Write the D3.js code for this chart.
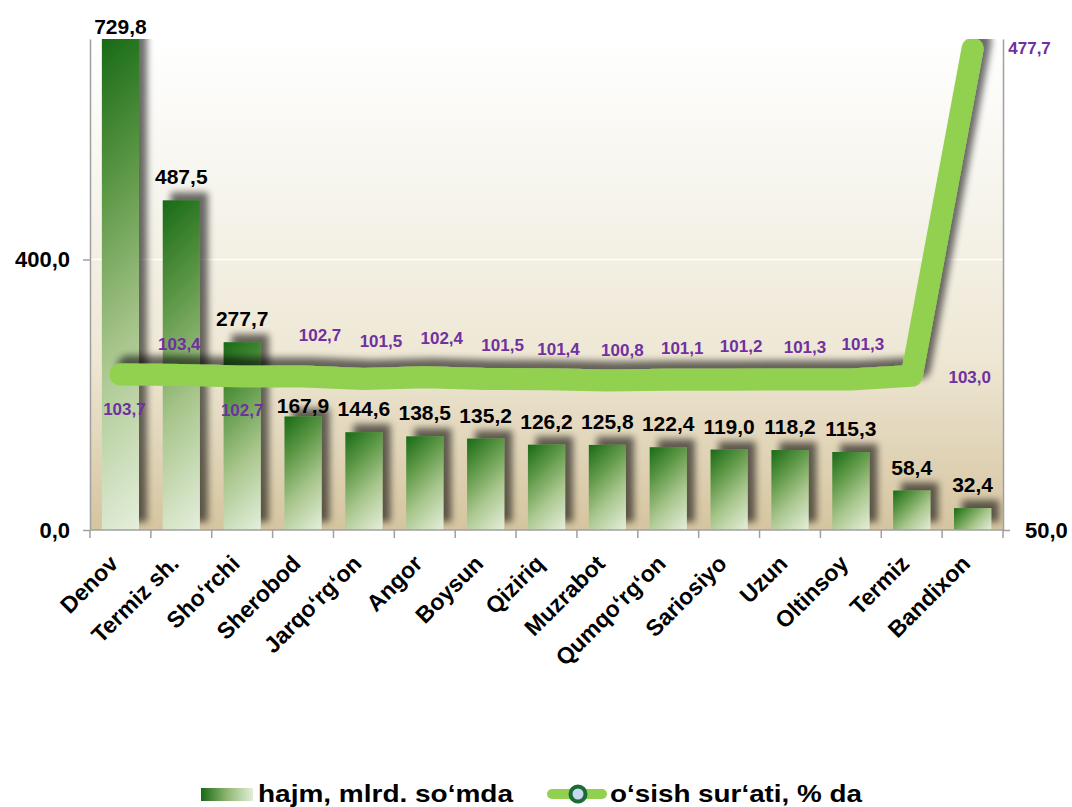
<!DOCTYPE html>
<html>
<head>
<meta charset="utf-8">
<script src="https://d3js.org/d3.v7.min.js"></script>
<style>
  body { margin: 0; background: #fff; }
  svg { display: block; font-family: "Liberation Sans", Arial, sans-serif; }
</style>
</head>
<body>
<svg id="chart" width="1072" height="807"></svg>
<script>
// data
const districts = ["Denov", "Termiz sh.", "Sho‘rchi", "Sherobod", "Jarqo‘rg‘on", "Angor", "Boysun",
  "Qiziriq", "Muzrabot", "Qumqo‘rg‘on", "Sariosiyo", "Uzun", "Oltinsoy", "Termiz", "Bandixon"];
const volume = [729.8, 487.5, 277.7, 167.9, 144.6, 138.5, 135.2, 126.2, 125.8, 122.4, 119.0, 118.2, 115.3, 58.4, 32.4];
const growth = [103.7, 103.4, 102.7, 102.7, 101.5, 102.4, 101.5, 101.4, 100.8, 101.1, 101.2, 101.3, 101.3, 103.0, 477.7];
const leftTicks = [0, 400];
const rightTicks = [50];
const legendNames = ["hajm, mlrd. so‘mda", "o‘sish sur‘ati, % da"];

// label nudges (px) for the % labels, as placed in the original
const growthLabelShift = [[4, 41], [-2, -25], [0, 39], [17, -36], [17, -32], [17, -33], [17, -28],
  [12, -24], [15, -24], [14, -26], [12, -28], [15, -26], [12, -29], [58, 7], [57, 5]];
const volumeLabelGap = [16, 16, 16, 3, 16, 16, 16, 16, 16, 16, 16, 16, 16, 16, 16];

const fmt = v => d3.format(".1f")(v).replace(".", ",");

const svg = d3.select("#chart");
const plot = {left: 90, right: 1003, top: 39, bottom: 530};

const x = d3.scaleBand()
  .domain(districts)
  .range([plot.left, plot.right])
  .paddingInner(0.39)
  .paddingOuter(0.195);
const step = x.step();
const bw = x.bandwidth();

const yL = d3.scaleLinear().domain([0, 726]).range([plot.bottom, plot.top]);
const yR = d3.scaleLog().domain([50, 500]).range([plot.bottom, plot.top]);

const defs = svg.append("defs");

const bg = defs.append("linearGradient").attr("id", "bg")
  .attr("x1", 0).attr("y1", 0).attr("x2", 0).attr("y2", 1);
bg.append("stop").attr("offset", "0%").attr("stop-color", "#ffffff");
bg.append("stop").attr("offset", "35%").attr("stop-color", "#f5f3ea");
bg.append("stop").attr("offset", "65%").attr("stop-color", "#eee7d4");
bg.append("stop").attr("offset", "100%").attr("stop-color", "#d5c49f");

const barStops = [["0%", "#186a16"], ["30%", "#5d9846"], ["62%", "#a9c68d"], ["100%", "#e5efdc"]];

// one gradient per bar, running at 45 degrees from top-left to bottom-right
volume.forEach((v, i) => {
  const x0 = x(districts[i]), y0 = Math.max(yL(v), plot.top), h = yL(0) - y0;
  const g = defs.append("linearGradient").attr("id", "barGrad" + i)
    .attr("gradientUnits", "userSpaceOnUse")
    .attr("x1", x0).attr("y1", y0)
    .attr("x2", x0 + (bw + h) / 2).attr("y2", y0 + (bw + h) / 2);
  barStops.forEach(s => g.append("stop").attr("offset", s[0]).attr("stop-color", s[1]));
});

const legGrad = defs.append("linearGradient").attr("id", "legGrad")
  .attr("x1", 0).attr("y1", 0).attr("x2", 1).attr("y2", 0);
legGrad.append("stop").attr("offset", "0%").attr("stop-color", "#186a16");
legGrad.append("stop").attr("offset", "50%").attr("stop-color", "#8fb672");
legGrad.append("stop").attr("offset", "100%").attr("stop-color", "#e2eed8");

const shadow = defs.append("filter").attr("id", "shadow")
  .attr("x", "-60%").attr("y", "-120%").attr("width", "220%").attr("height", "340%");
shadow.append("feGaussianBlur").attr("in", "SourceAlpha").attr("stdDeviation", 3.5).attr("result", "blur");
shadow.append("feOffset").attr("in", "blur").attr("dx", 8).attr("dy", -8).attr("result", "off");
shadow.append("feComponentTransfer").attr("in", "off").attr("result", "soft")
  .append("feFuncA").attr("type", "linear").attr("slope", 0.58);
const merge = shadow.append("feMerge");
merge.append("feMergeNode").attr("in", "soft");
merge.append("feMergeNode").attr("in", "SourceGraphic");

defs.append("clipPath").attr("id", "plotClip")
  .append("rect")
  .attr("x", plot.left).attr("y", plot.top)
  .attr("width", plot.right - plot.left).attr("height", plot.bottom - plot.top);

// plot background
svg.append("rect")
  .attr("x", plot.left).attr("y", plot.top)
  .attr("width", plot.right - plot.left).attr("height", plot.bottom - plot.top)
  .attr("fill", "url(#bg)");

// gridline at 400
svg.append("line")
  .attr("x1", plot.left).attr("x2", plot.right)
  .attr("y1", yL(400)).attr("y2", yL(400))
  .attr("stroke", "#ffffff").attr("stroke-width", 1.5);

const inner = svg.append("g").attr("clip-path", "url(#plotClip)");

inner.selectAll(".bar")
  .data(volume)
  .enter()
  .append("rect")
  .attr("class", "bar")
  .attr("x", (d, i) => x(districts[i]))
  .attr("y", d => yL(d))
  .attr("width", bw)
  .attr("height", d => yL(0) - yL(d))
  .attr("fill", (d, i) => `url(#barGrad${i})`)
  .attr("filter", "url(#shadow)");

const pts = growth.map((v, i) => [x(districts[i]) + bw / 2, yR(v)]);

inner.append("path")
  .datum(pts)
  .attr("fill", "none")
  .attr("stroke", "#92d050")
  .attr("stroke-width", 22)
  .attr("stroke-linecap", "round")
  .attr("stroke-linejoin", "round")
  .attr("filter", "url(#shadow)")
  .attr("d", d3.line());

// axes
const axisColor = "#a0a0a0";

const gL = svg.append("g")
  .attr("transform", `translate(${plot.left},0)`)
  .call(d3.axisLeft(yL).tickValues(leftTicks).tickSize(7).tickSizeOuter(0).tickPadding(13).tickFormat(fmt));
const gR = svg.append("g")
  .attr("transform", `translate(${plot.right},0)`)
  .call(d3.axisRight(yR).tickValues(rightTicks).tickSize(7).tickSizeOuter(0).tickPadding(15).tickFormat(fmt));
[gL, gR].forEach(g => {
  g.select(".domain").attr("stroke", axisColor).attr("stroke-width", 1.5);
  g.selectAll(".tick line").attr("stroke", axisColor).attr("stroke-width", 1.5);
  g.selectAll(".tick text")
    .attr("font-family", "'Liberation Sans', Arial, sans-serif")
    .attr("font-size", 22).attr("font-weight", "bold").attr("fill", "#000");
});

svg.append("line")
  .attr("x1", plot.left).attr("x2", plot.right)
  .attr("y1", plot.bottom).attr("y2", plot.bottom)
  .attr("stroke", axisColor).attr("stroke-width", 1.5);

const bounds = d3.range(districts.length + 1).map(k => plot.left + k * step);
svg.selectAll(".xtick")
  .data(bounds)
  .enter()
  .append("line")
  .attr("class", "xtick")
  .attr("x1", d => d).attr("x2", d => d)
  .attr("y1", plot.bottom).attr("y2", plot.bottom + 8)
  .attr("stroke", axisColor).attr("stroke-width", 1.5);

svg.selectAll(".xlabel")
  .data(districts)
  .enter()
  .append("text")
  .attr("class", "xlabel")
  .attr("transform", d => `translate(${x(d) + bw / 2 - 1},565) rotate(-45)`)
  .attr("text-anchor", "end")
  .attr("font-size", 23)
  .attr("font-weight", "bold")
  .attr("fill", "#000")
  .text(d => d);

// bar value labels
svg.selectAll(".vlabel")
  .data(volume)
  .enter()
  .append("text")
  .attr("class", "vlabel")
  .attr("x", (d, i) => x(districts[i]) + bw / 2)
  .attr("y", (d, i) => Math.max(yL(d) - volumeLabelGap[i], 34))
  .attr("text-anchor", "middle")
  .attr("font-size", 21)
  .attr("font-weight", "bold")
  .attr("fill", "#000")
  .text(fmt);

// growth labels
svg.selectAll(".glabel")
  .data(growth)
  .enter()
  .append("text")
  .attr("class", "glabel")
  .attr("x", (d, i) => pts[i][0] + growthLabelShift[i][0])
  .attr("y", (d, i) => pts[i][1] + growthLabelShift[i][1])
  .attr("text-anchor", "middle")
  .attr("font-size", 17)
  .attr("font-weight", "bold")
  .attr("fill", "#7030a0")
  .text(fmt);

// legend
const leg = svg.append("g");
leg.append("rect")
  .attr("x", 201).attr("y", 788).attr("width", 52).attr("height", 13)
  .attr("fill", "url(#legGrad)");
leg.append("text")
  .attr("x", 258).attr("y", 802)
  .attr("font-size", 24).attr("font-weight", "bold")
  .attr("textLength", 255).attr("lengthAdjust", "spacingAndGlyphs")
  .text(legendNames[0]);
leg.append("line")
  .attr("x1", 552).attr("x2", 602).attr("y1", 794).attr("y2", 794)
  .attr("stroke", "#92d050").attr("stroke-width", 10).attr("stroke-linecap", "round");
leg.append("circle")
  .attr("cx", 578).attr("cy", 794).attr("r", 7.5)
  .attr("fill", "#c6d9f1").attr("stroke", "#1a6b35").attr("stroke-width", 4);
leg.append("text")
  .attr("x", 610).attr("y", 802)
  .attr("font-size", 24).attr("font-weight", "bold")
  .attr("textLength", 252).attr("lengthAdjust", "spacingAndGlyphs")
  .text(legendNames[1]);
</script>
</body>
</html>
